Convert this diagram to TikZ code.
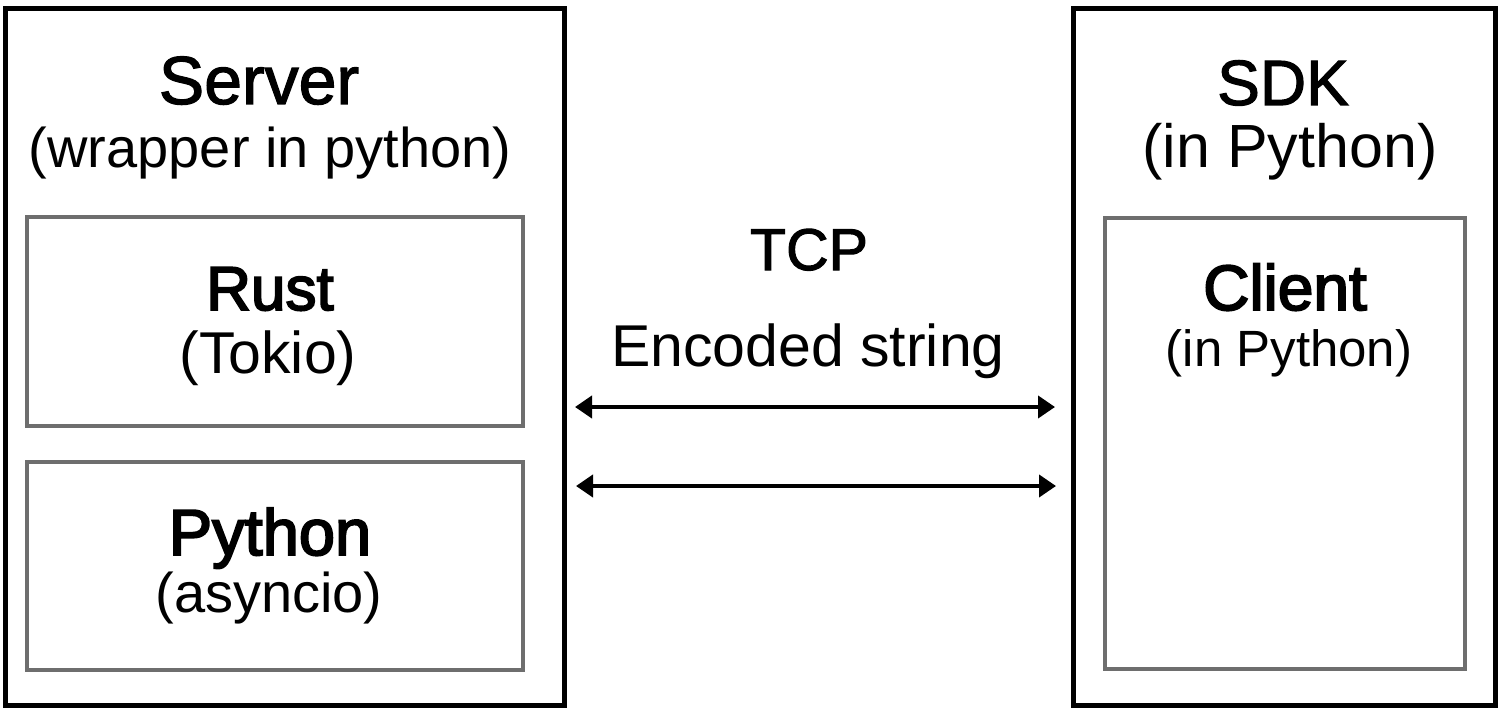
\documentclass[tikz,border=0pt]{standalone}
\usepackage{fontspec}
\setmainfont{Liberation Sans}
\newfontfamily\medfont{Liberation Sans}[FakeBold=1.8]
\newfontfamily\semifont{Liberation Sans}[FakeBold=3]
\usetikzlibrary{arrows.meta}
\tikzset{
  outerbox/.style={draw=black, line width=5pt, inner sep=0pt},
  innerbox/.style={draw={rgb,255:red,110;green,110;blue,110}, line width=4pt, inner sep=0pt},
  txt/.style={anchor=base, inner sep=0pt, text=black},
  link/.style={line width=4pt, {Triangle[length=17pt,width=22pt]}-{Triangle[length=17pt,width=22pt]}},
}
\begin{document}
\begin{tikzpicture}[x=1pt,y=-1pt]
\useasboundingbox (0,0) rectangle (1501,714);
% boxes
\node[outerbox, minimum width=559pt, minimum height=696pt] (server) at (284.5,357) {};
\node[outerbox, minimum width=422pt, minimum height=696pt] (sdk) at (1284,357) {};
\node[innerbox, minimum width=496pt, minimum height=209pt] (rust) at (275,321.5) {};
\node[innerbox, minimum width=496pt, minimum height=208pt] (py) at (275,566) {};
\node[innerbox, minimum width=360pt, minimum height=451pt] (client) at (1285,443.5) {};
% texts
\node[txt, font=\medfont\fontsize{68}{72}\selectfont] (t1) at (259,104) {Server};
\node[txt, font=\fontsize{56}{60}\selectfont] (t2) at (270,168) {(wrapper in python)};
\node[txt, font=\semifont\fontsize{62}{66}\selectfont] (t3) at (270,310) {Rust};
\node[txt, font=\fontsize{59}{62}\selectfont] (t4) at (268,373) {(Tokio)};
\node[txt, font=\semifont\fontsize{65}{70}\selectfont] (t5) at (270,555) {Python};
\node[txt, font=\fontsize{56}{60}\selectfont] (t6) at (269,612) {(asyncio)};
\node[txt, font=\medfont\fontsize{59}{64}\selectfont] (t7) at (809,270) {TCP};
\node[txt, font=\fontsize{59}{62}\selectfont] (t8) at (808,366) {Encoded string};
\node[txt, font=\medfont\fontsize{64}{70}\selectfont] (t9) at (1283,105) {SDK};
\node[txt, font=\fontsize{61}{64}\selectfont] (t10) at (1290,168) {(in Python)};
\node[txt, font=\semifont\fontsize{64}{68}\selectfont] (t11) at (1285,310) {Client};
\node[txt, font=\fontsize{51}{56}\selectfont] (t12) at (1289,366) {(in Python)};
% connectors
\coordinate (a1l) at (575,407);
\coordinate (a1r) at (1055,407);
\coordinate (a2l) at (576,486);
\coordinate (a2r) at (1056,486);
\draw[link] (a1l) -- (a1r);
\draw[link] (a2l) -- (a2r);
\end{tikzpicture}
\end{document}
